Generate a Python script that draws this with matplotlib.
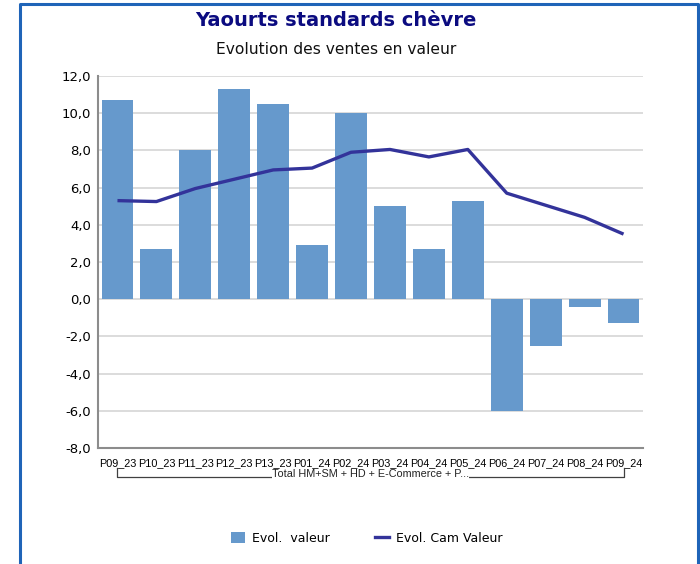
import matplotlib
matplotlib.use("Agg")
import matplotlib.pyplot as plt
from matplotlib.lines import Line2D
from matplotlib.patches import Patch
import matplotlib.transforms as mtransforms

categories = ["P09_23", "P10_23", "P11_23", "P12_23", "P13_23", "P01_24", "P02_24",
              "P03_24", "P04_24", "P05_24", "P06_24", "P07_24", "P08_24", "P09_24"]
evol_valeur = [10.7, 2.7, 8.0, 11.3, 10.5, 2.9, 10.0, 5.0, 2.7, 5.3, -6.0, -2.5, -0.4, -1.3]
evol_cam_valeur = [5.3, 5.25, 5.95, 6.45, 6.95, 7.05, 7.9, 8.05, 7.65, 8.05, 5.7, 5.05, 4.4, 3.5]
yticks = [-8, -6, -4, -2, 0, 2, 4, 6, 8, 10, 12]
group_label = "Total HM+SM + HD + E-Commerce + P..."

plt.rcParams['font.family'] = ['DejaVu Sans']

fig = plt.figure(figsize=(7.0, 5.64), dpi=100)
W, H = 700, 564
ax = fig.add_axes([98 / W, 1 - 448 / H, (643 - 98) / W, (448 - 76) / H])

x = list(range(len(categories)))
ax.bar(x, evol_valeur, width=0.82, color="#6699CC", zorder=2, label="Evol.  valeur")
ax.plot(x, evol_cam_valeur, color="#33339A", lw=2.4, zorder=3, label="Evol. Cam Valeur",
        solid_capstyle="butt")

ax.set_xlim(-0.5, len(categories) - 0.5)
ax.set_ylim(-8, 12)
ax.set_yticks(yticks)
ax.set_yticklabels([f"{v:.1f}".replace(".", ",") for v in yticks], fontsize=9.5)
ax.set_xticks(x)
ax.set_xticklabels(categories, fontsize=7.8, family=["Liberation Sans", "DejaVu Sans"])
ax.tick_params(axis="x", length=0, pad=7)
ax.tick_params(axis="y", length=0, pad=5)
ax.grid(axis="y", color="#D9D9D9", lw=1.3, zorder=0)
ax.set_axisbelow(True)
for s in ["top", "right"]:
    ax.spines[s].set_visible(False)
ax.spines["left"].set_color("#8C8C8C")
ax.spines["left"].set_linewidth(1.5)
ax.spines["bottom"].set_color("#8C8C8C")
ax.spines["bottom"].set_linewidth(1.5)

# category group bracket
trans = mtransforms.blended_transform_factory(ax.transData, ax.transAxes)
axh = 448 - 76
y_top = -(468 - 448) / axh
y_bot = -(477 - 448) / axh
xl, xr = 0, len(categories) - 1
ax.add_line(Line2D([xl, xl, xr, xr], [y_top, y_bot, y_bot, y_top], transform=trans,
                   color="#404040", lw=0.9, clip_on=False))
ax.text((xl + xr) / 2, -(474 - 448) / axh, group_label, transform=trans, ha="center",
        va="center", fontsize=7.8, color="#222222", family=["Liberation Sans", "DejaVu Sans"],
        bbox=dict(facecolor="white", edgecolor="none", pad=0.3))

# titles
fig.text(336 / W, 1 - 21 / H, "Yaourts standards chèvre", ha="center", va="center",
         fontsize=14, fontweight="bold", color="#0B0B80")
fig.text(336 / W, 1 - 50 / H, "Evolution des ventes en valeur", ha="center", va="center",
         fontsize=11.2, color="#111111")

# legend
handles = [Patch(facecolor="#6699CC", edgecolor="none"),
           Line2D([0], [0], color="#33339A", lw=2.4)]
fig.legend(handles, ["Evol.  valeur", "Evol. Cam Valeur"], loc="center",
           bbox_to_anchor=(367 / W, 1 - 538 / H), ncol=2, frameon=False, fontsize=9,
           handlelength=1.1, handleheight=1.0, columnspacing=3.6, handletextpad=0.6)

# outer frame
frame_col = "#1F64B8"
fig.add_artist(Line2D([20 / W, 20 / W, 698 / W, 698 / W], [0, 1 - 4 / H, 1 - 4 / H, 0],
                      transform=fig.transFigure, color=frame_col, lw=2.2))

fig.savefig("out.png", dpi=100)
